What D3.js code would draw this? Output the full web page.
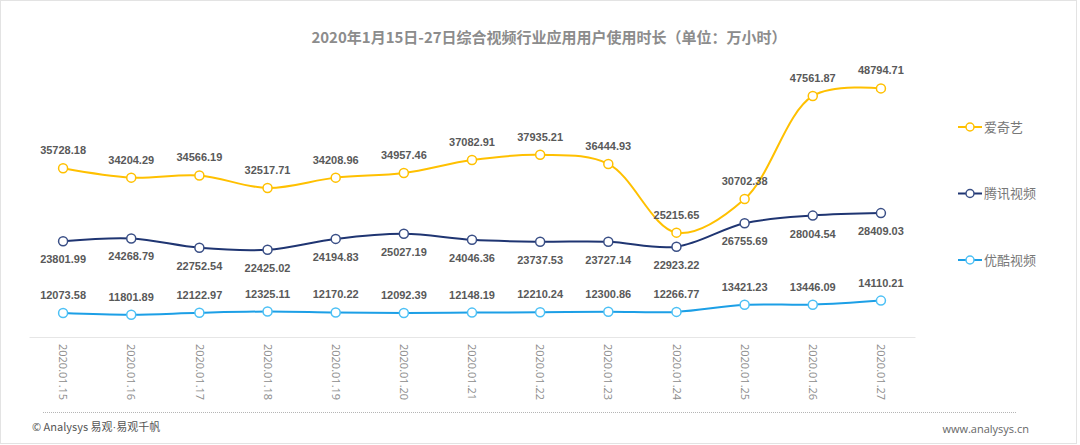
<!DOCTYPE html>
<meta charset="utf-8">
<style>
body { margin: 0; background: #fff; }
svg { display: block; }
.line { fill: none; stroke-width: 2; }
.lbl { font-family: "Liberation Sans", Arial, sans-serif; font-size: 11px; font-weight: bold; fill: #595959; text-anchor: middle; }
.tick text { font-family: "Open Sans", "Noto Sans", sans-serif; font-size: 11px; fill: #8c8c8c; }
</style>
<body></body>
<script src="https://d3js.org/d3.v7.min.js"></script>
<script>

// data
var dates = ["2020.01.15", "2020.01.16", "2020.01.17", "2020.01.18", "2020.01.19", "2020.01.20", "2020.01.21",
             "2020.01.22", "2020.01.23", "2020.01.24", "2020.01.25", "2020.01.26", "2020.01.27"];
var iqiyi   = [35728.18, 34204.29, 34566.19, 32517.71, 34208.96, 34957.46, 37082.91, 37935.21, 36444.93, 25215.65, 30702.38, 47561.87, 48794.71];
var tencent = [23801.99, 24268.79, 22752.54, 22425.02, 24194.83, 25027.19, 24046.36, 23737.53, 23727.14, 22923.22, 26755.69, 28004.54, 28409.03];
var youku   = [12073.58, 11801.89, 12122.97, 12325.11, 12170.22, 12092.39, 12148.19, 12210.24, 12300.86, 12266.77, 13421.23, 13446.09, 14110.21];
var seriesNames = ["爱奇艺", "腾讯视频", "优酷视频"];

var series = [
  {name: seriesNames[0], values: iqiyi,   color: "#ffc000", marker: "#ffc000", pos: "above"},
  {name: seriesNames[1], values: tencent, color: "#1f3572", marker: "#3a4f86", pos: "below"},
  {name: seriesNames[2], values: youku,   color: "#1c9fe6", marker: "#4cc0f5", pos: "above"}
];

var W = 1080, H = 445;

var svg = d3.select("body").append("svg")
    .attr("width", W)
    .attr("height", H);

// outer frame
svg.append("rect")
    .attr("x", 0.5).attr("y", 0.5)
    .attr("width", W - 4).attr("height", H - 2)
    .attr("fill", "#fff")
    .attr("stroke", "#e3e3e3");

var xScale = d3.scaleBand()
    .domain(dates)
    .range([29, 915]);

var yScale = d3.scaleLinear()
    .domain([8000, 50000])
    .range([338, 81]);

// title
svg.append("text")
    .attr("x", 549)
    .attr("y", 43)
    .attr("text-anchor", "middle")
    .style("font-family", "'Noto Sans CJK SC', sans-serif")
    .style("font-size", "15px")
    .style("font-weight", "bold")
    .style("fill", "#8c8c8c")
    .text("2020年1月15日-27日综合视频行业应用用户使用时长（单位：万小时）");

// x axis
var xAxis = svg.append("g")
    .attr("transform", "translate(0,337)")
    .call(d3.axisBottom(xScale).tickSize(0).tickPadding(0));
xAxis.select(".domain").attr("stroke", "#e6e6e6").attr("stroke-width", 1);
xAxis.selectAll(".tick text")
    .attr("transform", "rotate(90)")
    .attr("x", 7)
    .attr("y", 0)
    .attr("dy", "0.35em")
    .style("text-anchor", "start");

var line = d3.line()
    .x(function(d, i) { return xScale(dates[i]) + xScale.bandwidth() / 2; })
    .y(function(d) { return yScale(d); })
    .curve(d3.curveCatmullRom.alpha(0.5));

series.forEach(function(s) {
  svg.append("path")
      .datum(s.values)
      .attr("class", "line")
      .attr("stroke", s.color)
      .attr("d", line);

  var g = svg.append("g");
  g.selectAll("circle")
      .data(s.values)
    .enter().append("circle")
      .attr("cx", function(d, i) { return xScale(dates[i]) + xScale.bandwidth() / 2; })
      .attr("cy", function(d) { return yScale(d); })
      .attr("r", 4.5)
      .attr("fill", "#fff")
      .attr("stroke", s.marker)
      .attr("stroke-width", 1.5);

  g.selectAll("text")
      .data(s.values)
    .enter().append("text")
      .attr("class", "lbl")
      .attr("x", function(d, i) { return xScale(dates[i]) + xScale.bandwidth() / 2; })
      .attr("y", function(d) { return yScale(d) + (s.pos == "above" ? -14 : 22); })
      .text(function(d) { return d3.format(".2f")(d); });
});

// legend
var legend = svg.selectAll(".legend")
    .data(series)
  .enter().append("g")
    .attr("class", "legend")
    .attr("transform", function(d, i) { return "translate(958," + (127 + i * 66.5) + ")"; });
legend.append("line")
    .attr("x1", 0).attr("x2", 24)
    .attr("stroke", function(d) { return d.color; })
    .attr("stroke-width", 2);
legend.append("circle")
    .attr("cx", 12).attr("r", 4)
    .attr("fill", "#fff")
    .attr("stroke", function(d) { return d.marker; })
    .attr("stroke-width", 1.5);
legend.append("text")
    .attr("x", 26)
    .attr("dy", "0.35em")
    .style("font-family", "'Noto Sans CJK SC', sans-serif")
    .style("font-size", "13px")
    .style("fill", "#777")
    .text(function(d) { return d.name; });

// footer
svg.append("line")
    .attr("x1", 43).attr("x2", 1017)
    .attr("y1", 412.5).attr("y2", 412.5)
    .attr("stroke", "#b5b5b5")
    .attr("stroke-dasharray", "1,1");

var credit = svg.append("text")
    .attr("x", 32).attr("y", 431)
    .style("font-family", "'Noto Sans CJK SC', sans-serif")
    .style("font-size", "11px")
    .style("fill", "#555");
credit.append("tspan").text("© Analysys 易观");
credit.append("tspan").style("font-family", "'Liberation Sans', sans-serif").text("·");
credit.append("tspan").text("易观千帆");

svg.append("text")
    .attr("x", 1029).attr("y", 433)
    .attr("text-anchor", "end")
    .style("font-family", "'Open Sans', sans-serif")
    .style("font-size", "11px")
    .style("fill", "#666")
    .text("www.analysys.cn");

</script>
